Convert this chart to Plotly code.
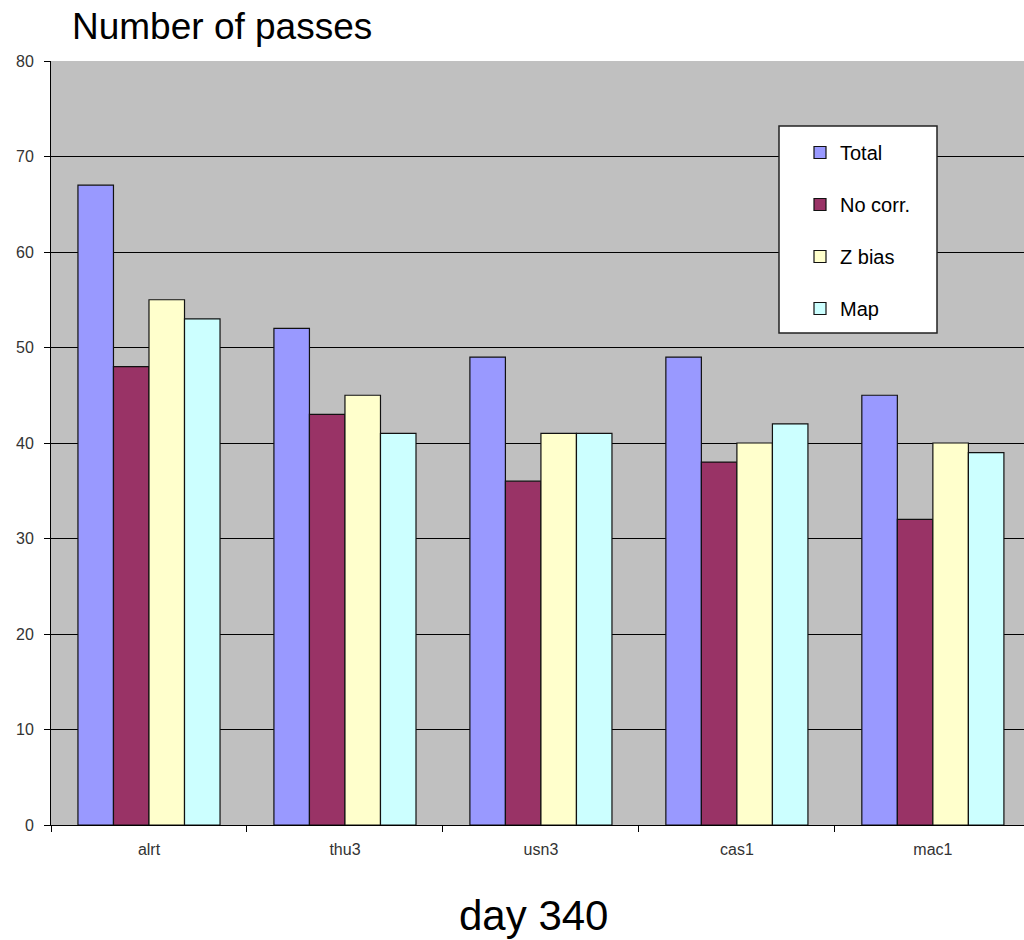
import plotly.graph_objects as go

stations = ["alrt", "thu3", "usn3", "cas1", "mac1"]
total = [67, 52, 49, 49, 45]
no_corr = [48, 43, 36, 38, 32]
z_bias = [55, 45, 41, 40, 40]
map_corr = [53, 41, 41, 42, 39]

series = [
    ("Total", total, "#9999FF"),
    ("No corr.", no_corr, "#993366"),
    ("Z bias", z_bias, "#FFFFCC"),
    ("Map", map_corr, "#CCFFFF"),
]

# plot area in pixels: x 51..1024, y 61..825
L, R, T, B = 51, 1024, 61, 825
PW, PH = R - L, B - T


def px_x(px):
    return (px - L) / PW


def px_y(py):
    return (B - py) / PH


fig = go.Figure()
for name, vals, color in series:
    fig.add_trace(go.Bar(
        x=stations, y=vals, name=name, legendgroup=name,
        marker=dict(color=color, line=dict(color="#111111", width=1.2)),
    ))

fig.update_layout(
    width=1024, height=940,
    margin=dict(l=L, r=1024 - R, t=T, b=940 - B),
    paper_bgcolor="white",
    plot_bgcolor="#C0C0C0",
    barmode="group",
    bargap=0.275,
    bargroupgap=0,
    font=dict(family="Liberation Sans, Arial, sans-serif", color="#000"),
    showlegend=True,
    legend=dict(
        x=px_x(800), y=px_y(133), xanchor="left", yanchor="top",
        bgcolor="rgba(0,0,0,0)", borderwidth=0,
        font=dict(size=20, color="#000"),
        traceorder="grouped", tracegroupgap=23,
        itemwidth=30,
    ),
    shapes=[
        # legend frame
        dict(type="rect", xref="paper", yref="paper", layer="above",
             x0=px_x(779), x1=px_x(937), y0=px_y(333), y1=px_y(126),
             fillcolor="white", line=dict(color="#222", width=1.5)),
    ],
    xaxis=dict(
        range=[-0.5, 4.465],
        showgrid=False,
        ticks="outside", tickson="boundaries", ticklen=6, tickcolor="#000",
        showline=True, linecolor="#000", linewidth=1,
        tickfont=dict(size=16, color="#333"),
        ticklabelstandoff=10,
    ),
    yaxis=dict(
        range=[0, 80], dtick=10,
        showgrid=True, gridcolor="#000", gridwidth=1,
        ticks="outside", ticklen=6, tickcolor="#000",
        showline=True, linecolor="#000", linewidth=1,
        zeroline=False,
        tickfont=dict(size=16, color="#333"),
        ticklabelstandoff=7,
    ),
    annotations=[
        dict(text="Number of passes", xref="paper", yref="paper",
             x=px_x(70), y=px_y(26), xanchor="left", yanchor="middle",
             showarrow=False, font=dict(size=37, color="#000")),
        dict(text="day 340", xref="paper", yref="paper",
             x=px_x(533), y=px_y(915), xanchor="center", yanchor="middle",
             showarrow=False, font=dict(size=42, color="#000")),
    ],
)

fig.write_html("out.html")
